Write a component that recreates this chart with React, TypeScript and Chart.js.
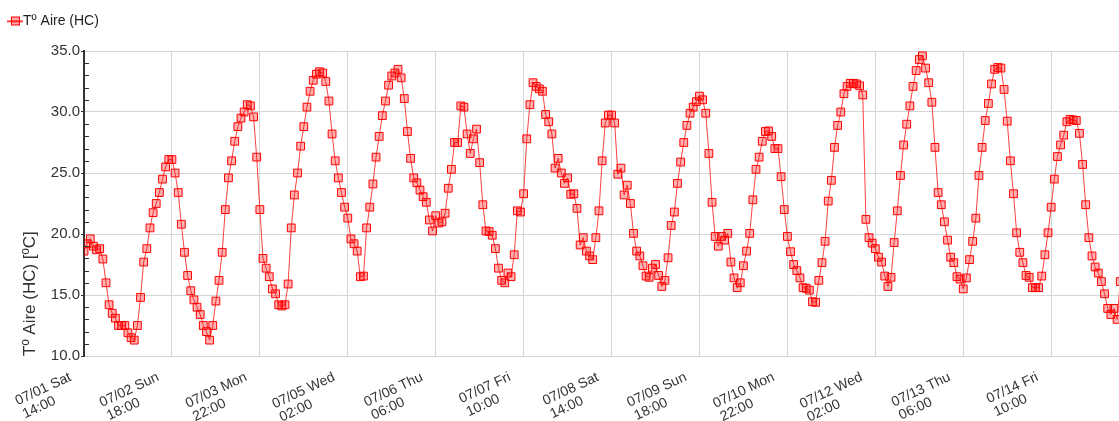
import React, { useEffect, useRef } from 'react';
import { Chart, registerables } from 'chart.js';

Chart.register(...registerables);

const SERIES_LABEL = 'Tº Aire (HC)';
const Y_TITLE = 'Tº Aire (HC) [ºC]';

// Hourly air temperature (ºC); first reading 07/01 Sat 14:00, one value per hour.
const airTemp: number[] = [
  18.6, 19.2, 19.6, 19.0, 18.7, 18.8, 17.95, 16.0, 14.2, 13.5, 13.1, 12.5, 12.5, 12.5,
  11.9, 11.5, 11.3, 12.5, 14.8, 17.7, 18.8, 20.5, 21.75, 22.5, 23.4, 24.5, 25.5, 26.1,
  26.1, 25.0, 23.4, 20.8, 18.5, 16.6, 15.35, 14.6, 14.0, 13.4, 12.5, 12.0, 11.3, 12.5,
  14.5, 16.2, 18.5, 22.0, 24.6, 26.0, 27.6, 28.8, 29.5, 30.0, 30.6, 30.5, 29.6, 26.3,
  22.0, 18.0, 17.2, 16.5, 15.5, 15.1, 14.2, 14.1, 14.2, 15.9, 20.5, 23.2, 25.0, 27.2,
  28.8, 30.4, 31.7, 32.6, 33.1, 33.3, 33.2, 32.5, 30.9, 28.2, 26.0, 24.6, 23.4, 22.2,
  21.3, 19.6, 19.2, 18.6, 16.5, 16.55, 20.5, 22.2, 24.1, 26.3, 28.0, 29.7, 30.9, 32.2,
  32.95, 33.2, 33.5, 32.8, 31.1, 28.4, 26.2, 24.6, 24.2, 23.6, 23.06, 22.6, 21.15, 20.25,
  21.5, 20.9, 21.0, 21.7, 23.75, 25.3, 27.5, 27.5, 30.5, 30.4, 28.2, 26.6, 27.8, 28.6,
  25.85, 22.4, 20.25, 20.2, 19.9, 18.8, 17.2, 16.2, 16.0, 16.8, 16.5, 18.3, 21.9, 21.8,
  23.3, 27.8, 30.6, 32.4, 32.1, 31.9, 31.7, 29.8, 29.2, 28.2, 25.4, 26.2, 25.0, 24.15,
  24.6, 23.25, 23.3, 22.1, 19.1, 19.7, 18.6, 18.2, 17.9, 19.7, 21.9, 26.0, 29.1, 29.75,
  29.75, 29.1, 24.9, 25.4, 23.2, 24.0, 22.5, 20.05, 18.6, 18.2, 17.4, 16.55, 16.45, 17.2,
  17.5, 16.6, 15.7, 16.2, 18.05, 20.7, 21.8, 24.15, 25.9, 27.5, 28.9, 29.9, 30.4, 30.85,
  31.3, 31.0, 29.9, 26.6, 22.6, 19.8, 19.0, 19.8, 19.5, 20.05, 17.7, 16.4, 15.6, 16.0,
  17.4, 18.6, 20.05, 22.8, 25.3, 26.3, 27.6, 28.4, 28.45, 28.0, 27.0, 27.0, 24.7, 22.0,
  19.8, 18.55, 17.5, 17.0, 16.4, 15.6, 15.55, 15.4, 14.45, 14.4, 16.2, 17.65, 19.4, 22.7,
  24.4, 27.1, 28.9, 30.0, 31.5, 32.1, 32.35, 32.35, 32.3, 32.15, 31.4, 21.2, 19.7, 19.25,
  18.8, 18.1, 17.7, 16.55, 15.7, 16.45, 19.3, 21.9, 24.8, 27.3, 29.0, 30.5, 32.1, 33.4,
  34.3, 34.6, 33.6, 32.4, 30.8, 27.1, 23.4, 22.4, 21.0, 19.5, 18.1, 17.65, 16.5, 16.3,
  15.5, 16.4, 17.9, 19.4, 21.3, 24.8, 27.1, 29.3, 30.7, 32.3, 33.5, 33.65, 33.6, 31.85,
  29.25, 26.0, 23.3, 20.1, 18.5, 17.65, 16.6, 16.45, 15.6, 15.6, 15.6, 16.55, 18.3, 20.1,
  22.2, 24.5, 26.35, 27.3, 28.1, 29.2, 29.4, 29.35, 29.3, 28.25, 25.7, 22.4, 19.7, 18.2,
  17.3, 16.8, 16.1, 15.1, 13.9, 13.4, 13.9, 13.0, 16.1,
];

// Axis ticks every 28 hours, counted from the first reading.
const tickHours: number[] = [0, 28, 56, 84, 112, 140, 168, 196, 224, 252, 280, 308];
const tickLabels: string[][] = [
  ['07/01 Sat', '14:00'],
  ['07/02 Sun', '18:00'],
  ['07/03 Mon', '22:00'],
  ['07/05 Wed', '02:00'],
  ['07/06 Thu', '06:00'],
  ['07/07 Fri', '10:00'],
  ['07/08 Sat', '14:00'],
  ['07/09 Sun', '18:00'],
  ['07/10 Mon', '22:00'],
  ['07/12 Wed', '02:00'],
  ['07/13 Thu', '06:00'],
  ['07/14 Fri', '10:00'],
];

const Y_MIN = 10;
const Y_MAX = 35;
const Y_STEP = 5;
const Y_MINOR_STEP = 1;
const HOURS_VISIBLE = 329.6;

const FONT = 'Liberation Sans, Arial, sans-serif';
const TEXT = '#333333';
const GRID = '#d6d6d6';
const RED = '#ff0000';

// Tilted two-line date labels under the time axis.
const LABEL_ANGLE = (25 * Math.PI) / 180;
const LABEL_DX = -12;
const LABEL_BASELINE_Y = 380;
const LABEL_LINE_GAP = 15;
const LABEL_SECOND_INSET = 1;

// Legend marker: a short line with a square on it.
function makeLegendMarker(): HTMLCanvasElement {
  const c = document.createElement('canvas');
  c.width = 16;
  c.height = 11;
  const g = c.getContext('2d')!;
  g.fillStyle = RED;
  g.fillRect(0, 5, 16, 1.5);
  g.fillStyle = 'rgba(255,0,0,0.35)';
  g.fillRect(4, 1, 9, 9);
  g.strokeStyle = RED;
  g.lineWidth = 1;
  g.strokeRect(4.5, 1.5, 8, 8);
  return c;
}

// Leaves room between the legend and the plot.
const legendSpacing = {
  id: 'legendSpacing',
  beforeInit(chart: any) {
    const legend = chart.legend;
    if (!legend) return;
    const fit = legend.fit;
    legend.fit = function () {
      fit.call(this);
      this.height = 51;
    };
  },
};

// Small inward ticks on the value axis between the labelled values.
const minorTicks = {
  id: 'minorTicks',
  afterDraw(chart: any) {
    const { ctx, chartArea, scales } = chart;
    const y = scales.y;
    ctx.save();
    ctx.strokeStyle = TEXT;
    ctx.lineWidth = 1;
    for (let v = Y_MIN + Y_MINOR_STEP; v < Y_MAX; v += Y_MINOR_STEP) {
      if (v % Y_STEP === 0) continue;
      const py = Math.round(y.getPixelForValue(v)) + 0.5;
      ctx.beginPath();
      ctx.moveTo(chartArea.left, py);
      ctx.lineTo(chartArea.left + 5, py);
      ctx.stroke();
    }
    ctx.restore();
  },
};

// Date / time labels, placed at the time scale's tick positions.
const timeLabels = {
  id: 'timeLabels',
  afterDraw(chart: any) {
    const { ctx, scales } = chart;
    const x = scales.x;
    ctx.save();
    ctx.font = `14px ${FONT}`;
    ctx.fillStyle = TEXT;
    ctx.textBaseline = 'alphabetic';
    ctx.textAlign = 'left';
    tickHours.forEach((h, i) => {
      const [first, second] = tickLabels[i];
      const px = x.getPixelForValue(h);
      const w1 = ctx.measureText(first).width;
      ctx.save();
      ctx.translate(px + LABEL_DX, LABEL_BASELINE_Y);
      ctx.rotate(-LABEL_ANGLE);
      ctx.fillText(first, -w1, 0);
      ctx.fillText(second, -w1 + LABEL_SECOND_INSET, LABEL_LINE_GAP);
      ctx.restore();
    });
    ctx.restore();
  },
};

export default function App() {
  const canvasRef = useRef<HTMLCanvasElement | null>(null);

  useEffect(() => {
    document.body.style.margin = '0';
    const canvas = canvasRef.current;
    if (!canvas) return;

    const chart = new Chart(canvas, {
      type: 'line',
      data: {
        datasets: [
          {
            label: SERIES_LABEL,
            data: airTemp.map((v, i) => ({ x: i, y: v })),
            borderColor: 'rgba(255,0,0,0.75)',
            borderWidth: 1,
            pointStyle: 'rect',
            pointRadius: 5.5,
            pointBorderWidth: 1,
            pointBorderColor: RED,
            pointBackgroundColor: 'rgba(255,0,0,0.3)',
            tension: 0,
            fill: false,
          },
        ],
      },
      options: {
        responsive: false,
        animation: false,
        layout: { padding: 0, autoPadding: false },
        plugins: {
          legend: {
            position: 'top',
            align: 'start',
            labels: {
              usePointStyle: true,
              pointStyle: makeLegendMarker(),
              pointStyleWidth: 2,
              boxHeight: 14,
              padding: 14,
              color: '#222222',
              font: { family: FONT, size: 14 },
            },
          },
          tooltip: { enabled: false },
        },
        scales: {
          x: {
            type: 'linear',
            min: 0,
            max: HOURS_VISIBLE,
            afterBuildTicks: (scale: any) => {
              scale.ticks = tickHours.map((value) => ({ value }));
            },
            afterFit: (scale: any) => {
              scale.height = 65;
            },
            ticks: { display: false },
            grid: { color: GRID, drawTicks: false },
            border: { color: GRID },
          },
          y: {
            min: Y_MIN,
            max: Y_MAX,
            afterFit: (scale: any) => {
              scale.width = 84;
            },
            ticks: {
              stepSize: Y_STEP,
              padding: 1,
              color: TEXT,
              font: { family: FONT, size: 15 },
              callback: (v: any) => Number(v).toFixed(1),
            },
            grid: { color: GRID, tickColor: TEXT, tickLength: 3 },
            border: { color: TEXT, width: 2 },
            title: {
              display: true,
              text: Y_TITLE,
              align: 'start',
              color: TEXT,
              font: { family: FONT, size: 17 },
              padding: { top: 20, bottom: 0 },
            },
          },
        },
      },
      plugins: [legendSpacing, minorTicks, timeLabels],
    });

    return () => chart.destroy();
  }, []);

  return (
    <div style={{ width: 1119, height: 421 }}>
      <canvas ref={canvasRef} width={1119} height={421} style={{ display: 'block' }} />
    </div>
  );
}
